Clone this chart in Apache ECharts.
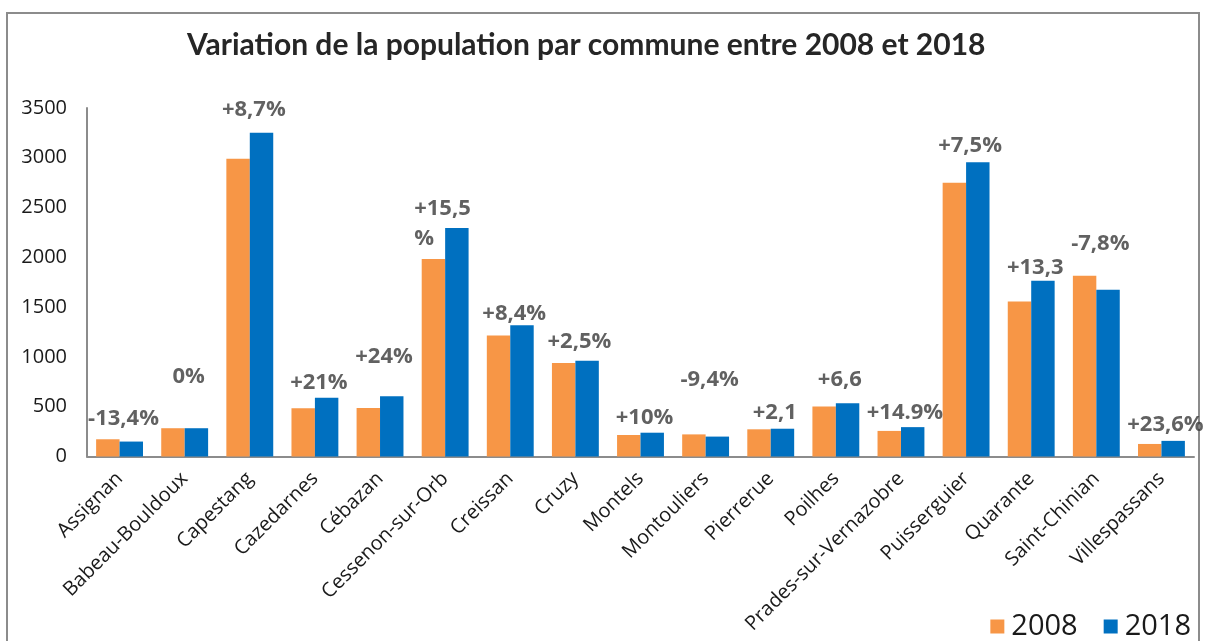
<!DOCTYPE html>
<html>
<head>
<meta charset="utf-8">
<script src="https://cdn.jsdelivr.net/npm/echarts@6/dist/echarts.min.js"></script>
<style>
html,body{margin:0;padding:0;background:#fff;}
#chart{width:1206px;height:641px;}
</style>
</head>
<body>
<div id="chart"></div>
<script>
const categories = ["Assignan","Babeau-Bouldoux","Capestang","Cazedarnes","Cébazan","Cessenon-sur-Orb","Creissan","Cruzy","Montels","Montouliers","Pierrerue","Poilhes","Prades-sur-Vernazobre","Puisserguier","Quarante","Saint-Chinian","Villespassans"];
const pop2008 = [173, 284, 2990, 485, 488, 1984, 1215, 938, 216, 222, 273, 501, 257, 2749, 1557, 1816, 126];
const pop2018 = [150, 284, 3252, 589, 606, 2294, 1318, 961, 239, 200, 279, 535, 295, 2956, 1764, 1675, 157];
const variationLabels = ["-13,4%","0%","+8,7%","+21%","+24%","+15,5\n%","+8,4%","+2,5%","+10%","-9,4%","+2,1","+6,6","+14.9%","+7,5%","+13,3","-7,8%","+23,6%"];
const variationLabelY = [384, 803, 3479, 736, 1004, 2337, 1434, 1155, 394, 770, 441, 770, 441, 3117, 1893, 2138, 317];
const yTicks = {min: 0, max: 3500, interval: 500};

const chart = echarts.init(document.getElementById('chart'), null, {renderer: 'canvas'});

const annData = categories.map((c, i) => {
  const item = {value: [i, variationLabelY[i]], name: variationLabels[i]};
  if (variationLabels[i].indexOf('\n') >= 0) {
    item.label = {align: 'left', offset: [-31, 0]};
  }
  return item;
});

const option = {
  backgroundColor: '#ffffff',
  animation: false,
  title: {
    text: 'Variation de la population par commune entre 2008 et 2018',
    left: 182,
    top: 25,
    textStyle: {fontFamily: 'Lato', fontWeight: 'bold', fontSize: 30, color: '#262626'}
  },
  graphic: [{
    type: 'rect',
    shape: {x: 7, y: 13, width: 1192, height: 700},
    style: {fill: 'none', stroke: '#8c8c8c', lineWidth: 2},
    silent: true
  }],
  legend: {
    data: ['2008', '2018'],
    right: 10,
    top: 607,
    itemWidth: 14,
    itemHeight: 14,
    itemGap: 26,
    icon: 'rect',
    textStyle: {fontFamily: 'Open Sans', fontSize: 29, color: '#1a1a1a', padding: [0, 0, 0, 2]}
  },
  grid: {left: 87, right: 12, top: 108, bottom: 184.5, containLabel: false},
  xAxis: {
    type: 'category',
    data: categories,
    axisLine: {show: true, lineStyle: {color: '#8c8c8c', width: 2}},
    axisTick: {show: false},
    axisLabel: {
      rotate: 45,
      interval: 0,
      margin: 19,
      fontFamily: 'Open Sans',
      fontSize: 20,
      color: '#1a1a1a'
    },
    splitLine: {show: false}
  },
  yAxis: {
    type: 'value',
    min: yTicks.min,
    max: yTicks.max,
    interval: yTicks.interval,
    axisLine: {show: true, lineStyle: {color: '#8c8c8c', width: 2}},
    axisTick: {show: false},
    splitLine: {show: false},
    axisLabel: {
      fontFamily: 'Open Sans', fontSize: 20, color: '#1a1a1a', margin: 20,
      formatter: v => String(v)
    }
  },
  series: [
    {
      name: '2008',
      type: 'bar',
      data: pop2008,
      barGap: '0%',
      barCategoryGap: '28%',
      itemStyle: {color: '#F79646'}
    },
    {
      name: '2018',
      type: 'bar',
      data: pop2018,
      barGap: '0%',
      barCategoryGap: '28%',
      itemStyle: {color: '#0070C0'}
    },
    {
      name: 'variation',
      type: 'scatter',
      data: annData,
      symbolSize: 0,
      silent: true,
      z: 5,
      label: {
        show: true,
        position: 'inside',
        offset: [4, 0],
        formatter: p => p.name,
        fontFamily: 'Open Sans',
        fontWeight: 'bold',
        fontSize: 22,
        lineHeight: 30,
        color: '#3a3a3a'
      }
    }
  ]
};
chart.setOption(option);
</script>
</body>
</html>
